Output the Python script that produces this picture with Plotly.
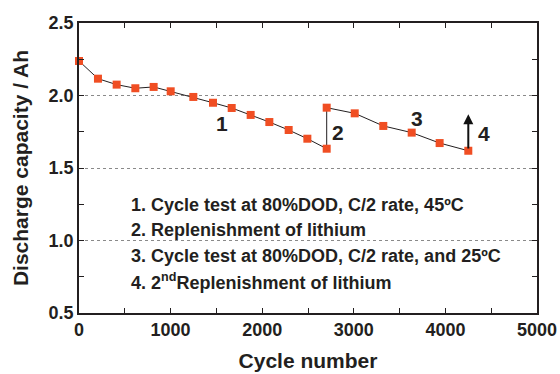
import plotly.graph_objects as go

cycles = [0, 207, 411, 615, 815, 1001, 1248, 1463, 1667, 1874, 2078, 2289, 2493,
          2704, 2704, 3010, 3322, 3632, 3937, 4250]
capacity = [2.238, 2.116, 2.075, 2.050, 2.059, 2.029, 1.990, 1.950, 1.914, 1.866,
            1.817, 1.762, 1.702, 1.633, 1.916, 1.877, 1.790, 1.744, 1.672, 1.619]

stage_labels = ["1", "2", "3", "4"]
stage_x = [1560, 2830, 3693, 4420]
stage_y = [1.81, 1.744, 1.843, 1.735]

notes = ["1. Cycle test at 80%DOD, C/2 rate, 45ºC",
         "2. Replenishment of lithium",
         "3. Cycle test at 80%DOD, C/2 rate, and 25ºC",
         "4. 2<sup>nd</sup>Replenishment of lithium"]
notes_y = [1.245, 1.07, 0.893, 0.715]
notes_x = 546

arrow_x = 4250
arrow_from = 1.625
arrow_to = 1.87

FONT = "Liberation Sans, Arial, Helvetica, sans-serif"
TXT = "#231f20"

fig = go.Figure()
fig.add_trace(go.Scatter(
    x=cycles, y=capacity, mode="lines+markers",
    line=dict(color="#231f20", width=1),
    marker=dict(symbol="square", size=8, color="#f04e23"),
    showlegend=False, cliponaxis=False))

for t, x, y in zip(stage_labels, stage_x, stage_y):
    fig.add_annotation(x=x, y=y, text=t, showarrow=False,
                       font=dict(family=FONT, size=21, color=TXT, weight="bold"))

for t, y in zip(notes, notes_y):
    fig.add_annotation(x=notes_x, y=y, text=t, showarrow=False, xanchor="left",
                       font=dict(family=FONT, size=18, color=TXT, weight="bold"))

fig.add_annotation(x=arrow_x, y=arrow_to, ax=arrow_x, ay=arrow_from,
                   xref="x", yref="y", axref="x", ayref="y", text="",
                   showarrow=True, arrowhead=2, arrowsize=1, arrowwidth=2,
                   arrowcolor="#111111", standoff=0, startstandoff=0)

axis_common = dict(
    showline=True, linecolor="#231f20", linewidth=1.5, mirror="ticks",
    ticks="inside", ticklen=5, tickcolor="#231f20", tickwidth=1,
    tickfont=dict(family=FONT, size=18, color=TXT, weight="bold"),
    zeroline=False, automargin=False)

fig.update_xaxes(range=[0, 5000], dtick=1000, showgrid=False,
                 minor=dict(dtick=500, ticks="inside", ticklen=5, tickcolor="#231f20", showgrid=False),
                 title=dict(text="Cycle number", font=dict(family=FONT, size=21, color=TXT, weight="bold"),
                            standoff=14),
                 **axis_common)
fig.update_yaxes(range=[0.5, 2.5], dtick=0.5, tickformat=".1f",
                 showgrid=True, gridcolor="#8a8a8a", griddash="dot", gridwidth=1,
                 minor=dict(dtick=0.25, ticks="inside", ticklen=5, tickcolor="#231f20", showgrid=False),
                 title=dict(text="Discharge capacity / Ah", font=dict(family=FONT, size=21, color=TXT, weight="bold"),
                            standoff=14),
                 **axis_common)

fig.update_layout(width=560, height=374, margin=dict(l=79, r=23, t=23, b=61),
                  plot_bgcolor="white", paper_bgcolor="white")

fig.write_html("out.html")
